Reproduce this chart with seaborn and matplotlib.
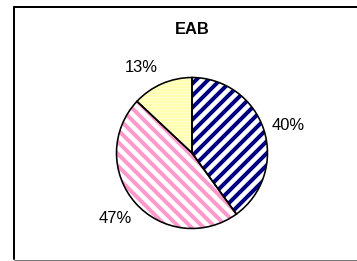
import matplotlib
matplotlib.use("Agg")
import matplotlib.pyplot as plt
import seaborn as sns
from matplotlib.lines import Line2D

# data
labels = ["A", "B", "C"]
shares = [40, 47, 13]
hatch_colors = ["#000080", "#FF99CC", "#FFFF99"]
face_colors = ["#FFFFFF", "#FFFFFF", "#FFFFFF"]
hatches = ["//", "\\\\", "--------"]
hatch_widths = [4.0, 4.0, 1.0]
title = "EAB"

sns.set_theme(style="white")
plt.rcParams["font.family"] = ["Liberation Sans", "DejaVu Sans"]
plt.rcParams["hatch.linewidth"] = 4.0

fig = plt.figure(figsize=(357 / 72, 261 / 72), dpi=72)
fig.patch.set_facecolor("white")

# pie area: centre ~(192,153) px, radius ~77 px
ax = fig.add_axes([115 / 357, 31 / 261, 154 / 357, 154 / 261])

wedges, texts, autotexts = ax.pie(
    shares, startangle=90, counterclock=False, radius=1,
    colors=face_colors, autopct="%1.0f%%", pctdistance=1.3,
    textprops=dict(fontsize=16.5, color="black"),
    wedgeprops=dict(linewidth=0),
)
for w, hc, h, hw in zip(wedges, hatch_colors, hatches, hatch_widths):
    w.set_edgecolor(hc)
    w.set_hatch(h)
    if hasattr(w, "set_hatch_linewidth"):
        w.set_hatch_linewidth(hw)

# excel-style label placement (layout only)
label_pos = [(1.27, 0.36), (-1.02, -0.87), (-0.675, 1.13)]
for t, p in zip(autotexts, label_pos):
    t.set_position(p)

# black outline on top
ax.pie(shares, startangle=90, counterclock=False, radius=1,
       colors=["none"] * len(shares),
       wedgeprops=dict(linewidth=1.6, edgecolor="black", fill=False))

ax.set_xlim(-1.02, 1.02)
ax.set_ylim(-1.02, 1.02)
ax.set_aspect("auto")
ax.axis("off")

fig.text(192 / 357, 1 - 29 / 261, title, ha="center", va="center",
         fontsize=16.5, fontweight="bold", color="black")

# chart frame
fig.add_artist(Line2D([14 / 357, 14 / 357], [1 - 7 / 261, 1 - 259 / 261],
                      transform=fig.transFigure, color="black", lw=2))
fig.add_artist(Line2D([14 / 357, 1.0], [1 - 7 / 261, 1 - 7 / 261],
                      transform=fig.transFigure, color="black", lw=2))
fig.add_artist(Line2D([14 / 357, 1.0], [1 - 259.5 / 261, 1 - 259.5 / 261],
                      transform=fig.transFigure, color="#777777", lw=1))

fig.savefig("out.png", dpi=72)
